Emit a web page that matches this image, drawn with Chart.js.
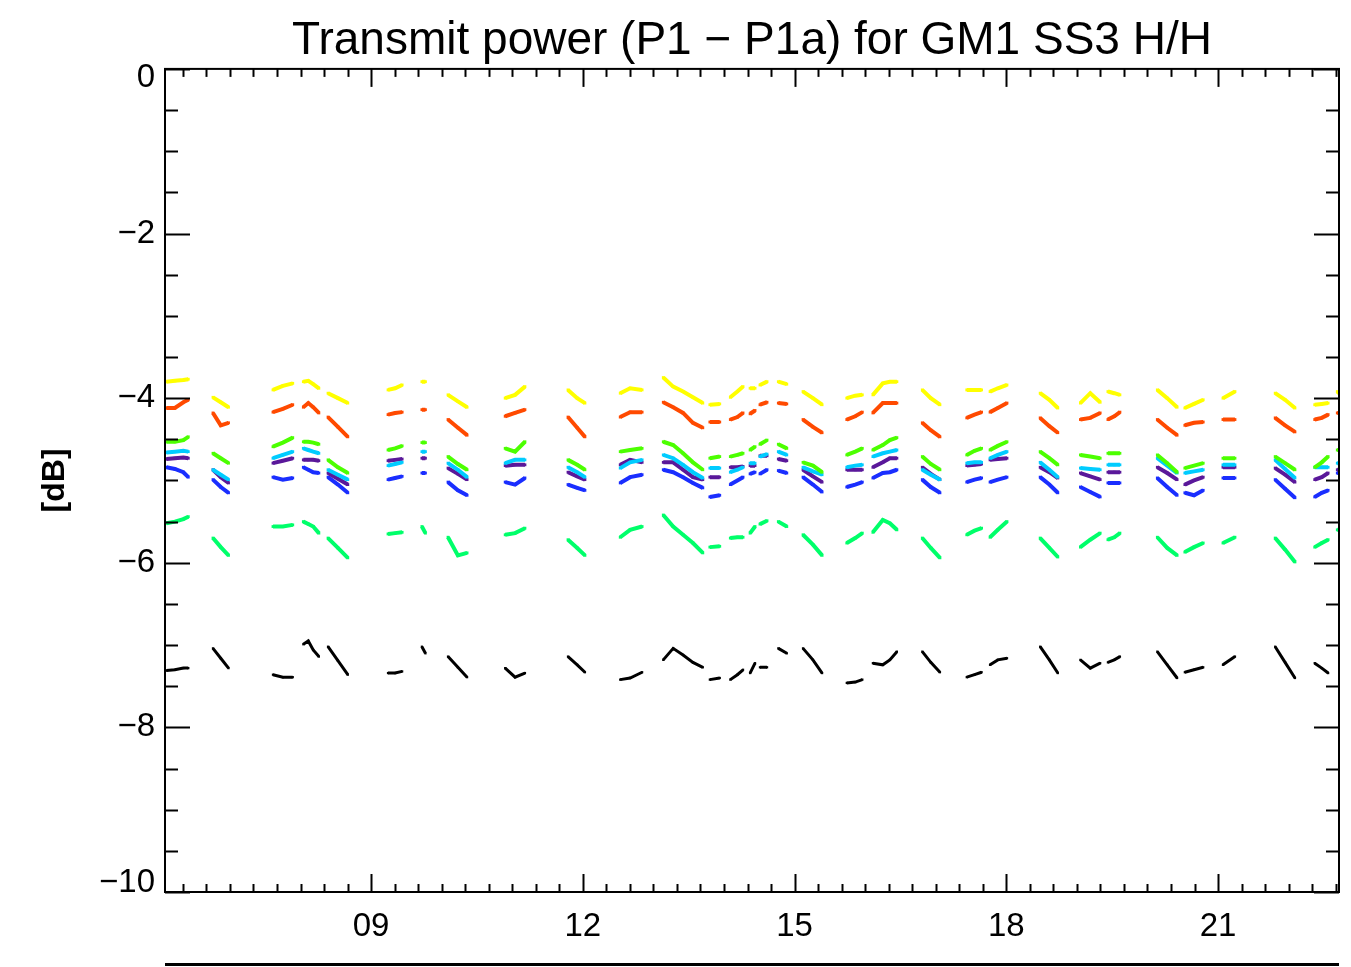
<!DOCTYPE html>
<html>
<head>
<meta charset="utf-8">
<script src="https://cdn.jsdelivr.net/npm/chart.js@4/dist/chart.umd.min.js"></script>
<style>
  html, body { margin: 0; padding: 0; background: #fff; }
  canvas { display: block; }
</style>
</head>
<body>
<canvas id="c" width="1351" height="967"></canvas>
<script>
// ---- Data (hours of day; null separates passes) ----
const hours = [
  6.10, 6.22, 6.34, 6.41, null,
  6.76, 6.87, 6.98, null,
  7.61, 7.75, 7.89, null,
  8.04, 8.11, 8.18, 8.26, null,
  8.39, 8.53, 8.67, null,
  9.24, 9.34, 9.44, null,
  9.72, 9.77, null,
  10.09, 10.23, 10.36, null,
  10.90, 11.04, 11.18, null,
  11.79, 11.92, 12.03, null,
  12.53, 12.67, 12.84, null,
  13.14, 13.28, 13.42, 13.56, 13.70, null,
  13.80, 13.94, null,
  14.09, 14.19, 14.27, null,
  14.37, 14.44, null,
  14.51, 14.61, null,
  14.77, 14.89, null,
  15.12, 15.26, 15.39, null,
  15.74, 15.86, 15.96, null,
  16.11, 16.25, 16.35, 16.45, null,
  16.81, 16.93, 17.06, null,
  17.44, 17.55, 17.65, null,
  17.77, 17.88, 18.01, null,
  18.48, 18.61, 18.73, null,
  19.05, 19.19, 19.33, null,
  19.44, 19.53, 19.61, null,
  20.14, 20.28, 20.42, null,
  20.53, 20.66, 20.79, null,
  21.07, 21.24, null,
  21.81, 21.95, 22.09, null,
  22.37, 22.47, 22.56, null,
  22.69, 22.71
];

const yellowDb = [
  -3.80, -3.79, -3.78, -3.77, null,
  -3.99, -4.05, -4.11, null,
  -3.90, -3.85, -3.82, null,
  -3.80, -3.79, -3.83, -3.88, null,
  -3.94, -4.00, -4.06, null,
  -3.90, -3.88, -3.84, null,
  -3.80, -3.80, null,
  -3.96, -4.04, -4.11, null,
  -4.00, -3.96, -3.86, null,
  -3.90, -4.00, -4.06, null,
  -3.94, -3.88, -3.90, null,
  -3.75, -3.86, -3.92, -3.99, -4.06, null,
  -4.08, -4.07, null,
  -3.99, -3.92, -3.86, null,
  -3.88, -3.88, null,
  -3.84, -3.80, null,
  -3.80, -3.83, null,
  -3.92, -4.00, -4.08, null,
  -4.00, -3.97, -3.96, null,
  -3.96, -3.82, -3.80, -3.80, null,
  -3.90, -4.00, -4.08, null,
  -3.90, -3.90, -3.90, null,
  -3.92, -3.88, -3.84, null,
  -3.94, -4.02, -4.12, null,
  -4.06, -3.94, -4.05, null,
  -3.92, -3.94, -3.96, null,
  -3.90, -4.00, -4.11, null,
  -4.12, -4.07, -4.02, null,
  -4.00, -3.92, null,
  -3.94, -4.02, -4.12, null,
  -4.08, -4.07, -4.06, null,
  -3.92, -3.94
];

const orangeDb = [
  -4.12, -4.12, -4.05, -4.02, null,
  -4.18, -4.33, -4.30, null,
  -4.17, -4.13, -4.08, null,
  -4.11, -4.06, -4.11, -4.18, null,
  -4.23, -4.35, -4.47, null,
  -4.20, -4.18, -4.17, null,
  -4.14, -4.14, null,
  -4.26, -4.36, -4.45, null,
  -4.22, -4.18, -4.14, null,
  -4.23, -4.36, -4.47, null,
  -4.23, -4.17, -4.17, null,
  -4.05, -4.11, -4.18, -4.30, -4.36, null,
  -4.29, -4.29, null,
  -4.26, -4.23, -4.18, null,
  -4.19, -4.15, null,
  -4.08, -4.05, null,
  -4.06, -4.07, null,
  -4.26, -4.35, -4.42, null,
  -4.26, -4.22, -4.17, null,
  -4.18, -4.06, -4.06, -4.06, null,
  -4.30, -4.39, -4.47, null,
  -4.24, -4.20, -4.17, null,
  -4.17, -4.12, -4.06, null,
  -4.24, -4.34, -4.42, null,
  -4.26, -4.24, -4.18, null,
  -4.26, -4.22, -4.17, null,
  -4.26, -4.36, -4.45, null,
  -4.33, -4.30, -4.29, null,
  -4.26, -4.26, null,
  -4.24, -4.33, -4.41, null,
  -4.26, -4.24, -4.20, null,
  -4.18, -4.18
];

const limeDb = [
  -4.53, -4.53, -4.51, -4.47, null,
  -4.67, -4.73, -4.79, null,
  -4.59, -4.54, -4.48, null,
  -4.53, -4.53, -4.54, -4.56, null,
  -4.75, -4.84, -4.91, null,
  -4.63, -4.61, -4.58, null,
  -4.54, -4.54, null,
  -4.71, -4.80, -4.87, null,
  -4.61, -4.65, -4.53, null,
  -4.75, -4.81, -4.87, null,
  -4.65, -4.63, -4.61, null,
  -4.53, -4.57, -4.67, -4.78, -4.87, null,
  -4.73, -4.71, null,
  -4.71, -4.69, -4.67, null,
  -4.63, -4.59, null,
  -4.56, -4.51, null,
  -4.56, -4.61, null,
  -4.78, -4.82, -4.90, null,
  -4.69, -4.65, -4.61, null,
  -4.63, -4.57, -4.51, -4.48, null,
  -4.71, -4.80, -4.87, null,
  -4.69, -4.64, -4.61, null,
  -4.63, -4.58, -4.53, null,
  -4.65, -4.73, -4.81, null,
  -4.69, -4.71, -4.73, null,
  -4.67, -4.67, -4.67, null,
  -4.69, -4.79, -4.90, null,
  -4.85, -4.82, -4.79, null,
  -4.73, -4.73, null,
  -4.71, -4.79, -4.87, null,
  -4.84, -4.78, -4.71, null,
  -4.63, -4.63
];

const cyanDb = [
  -4.66, -4.65, -4.64, -4.65, null,
  -4.87, -4.93, -4.99, null,
  -4.73, -4.69, -4.65, null,
  -4.61, -4.63, -4.65, -4.67, null,
  -4.87, -4.93, -4.99, null,
  -4.82, -4.80, -4.78, null,
  -4.65, -4.65, null,
  -4.79, -4.87, -4.96, null,
  -4.79, -4.75, -4.75, null,
  -4.84, -4.90, -4.96, null,
  -4.85, -4.78, -4.75, null,
  -4.69, -4.73, -4.81, -4.90, -4.97, null,
  -4.85, -4.85, null,
  -4.90, -4.87, -4.84, null,
  -4.79, -4.79, null,
  -4.71, -4.68, null,
  -4.65, -4.69, null,
  -4.84, -4.89, -4.93, null,
  -4.84, -4.82, -4.81, null,
  -4.71, -4.67, -4.65, -4.63, null,
  -4.87, -4.93, -4.99, null,
  -4.79, -4.78, -4.78, null,
  -4.73, -4.69, -4.65, null,
  -4.78, -4.87, -4.96, null,
  -4.85, -4.86, -4.87, null,
  -4.81, -4.81, -4.81, null,
  -4.73, -4.82, -4.91, null,
  -4.91, -4.89, -4.87, null,
  -4.81, -4.81, null,
  -4.75, -4.86, -4.97, null,
  -4.84, -4.84, -4.84, null,
  -4.79, -4.79
];

const purpleDb = [
  -4.74, -4.73, -4.72, -4.73, null,
  -4.87, -4.96, -5.03, null,
  -4.79, -4.76, -4.73, null,
  -4.75, -4.75, -4.75, -4.76, null,
  -4.91, -4.98, -5.05, null,
  -4.76, -4.75, -4.74, null,
  -4.73, -4.73, null,
  -4.85, -4.92, -4.99, null,
  -4.82, -4.81, -4.81, null,
  -4.90, -4.95, -4.99, null,
  -4.81, -4.75, -4.78, null,
  -4.78, -4.78, -4.87, -4.96, -4.99, null,
  -4.96, -4.96, null,
  -4.84, -4.84, -4.83, null,
  -4.82, -4.82, null,
  -4.70, -4.70, null,
  -4.74, -4.76, null,
  -4.87, -4.95, -5.02, null,
  -4.87, -4.87, -4.87, null,
  -4.84, -4.78, -4.73, -4.73, null,
  -4.84, -4.92, -4.99, null,
  -4.82, -4.81, -4.80, null,
  -4.75, -4.74, -4.73, null,
  -4.84, -4.90, -4.97, null,
  -4.91, -4.95, -4.99, null,
  -4.90, -4.90, -4.90, null,
  -4.84, -4.91, -4.99, null,
  -5.05, -5.00, -4.96, null,
  -4.84, -4.84, null,
  -4.85, -4.93, -5.02, null,
  -4.99, -4.96, -4.91, null,
  -4.87, -4.87
];

const blueDb = [
  -4.84, -4.86, -4.90, -4.96, null,
  -4.99, -5.08, -5.15, null,
  -4.96, -4.99, -4.97, null,
  -4.84, -4.87, -4.90, -4.91, null,
  -4.96, -5.05, -5.15, null,
  -4.99, -4.97, -4.95, null,
  -4.91, -4.91, null,
  -5.02, -5.12, -5.18, null,
  -5.02, -5.05, -4.97, null,
  -5.05, -5.09, -5.12, null,
  -5.03, -4.96, -4.93, null,
  -4.87, -4.90, -4.96, -5.03, -5.09, null,
  -5.20, -5.18, null,
  -5.05, -5.00, -4.96, null,
  -4.92, -4.90, null,
  -4.92, -4.87, null,
  -4.88, -4.91, null,
  -4.96, -5.05, -5.14, null,
  -5.08, -5.05, -5.02, null,
  -4.97, -4.91, -4.90, -4.87, null,
  -4.99, -5.08, -5.15, null,
  -5.02, -4.99, -4.97, null,
  -5.02, -4.99, -4.96, null,
  -4.96, -5.05, -5.15, null,
  -5.08, -5.14, -5.20, null,
  -5.03, -5.03, -5.03, null,
  -4.97, -5.08, -5.18, null,
  -5.15, -5.18, -5.12, null,
  -4.97, -4.97, null,
  -4.99, -5.10, -5.21, null,
  -5.20, -5.15, -5.12, null,
  -4.91, -4.91
];

const springDb = [
  -5.52, -5.50, -5.47, -5.44, null,
  -5.70, -5.81, -5.91, null,
  -5.56, -5.56, -5.54, null,
  -5.50, -5.53, -5.56, -5.64, null,
  -5.70, -5.82, -5.94, null,
  -5.65, -5.64, -5.63, null,
  -5.56, -5.64, null,
  -5.69, -5.91, -5.88, null,
  -5.66, -5.64, -5.58, null,
  -5.72, -5.82, -5.91, null,
  -5.69, -5.60, -5.56, null,
  -5.42, -5.56, -5.66, -5.76, -5.88, null,
  -5.81, -5.80, null,
  -5.70, -5.69, -5.69, null,
  -5.64, -5.56, null,
  -5.53, -5.49, null,
  -5.50, -5.56, null,
  -5.66, -5.78, -5.91, null,
  -5.76, -5.70, -5.64, null,
  -5.63, -5.48, -5.52, -5.60, null,
  -5.70, -5.82, -5.94, null,
  -5.66, -5.61, -5.58, null,
  -5.69, -5.60, -5.50, null,
  -5.70, -5.82, -5.93, null,
  -5.81, -5.72, -5.64, null,
  -5.72, -5.69, -5.64, null,
  -5.69, -5.82, -5.91, null,
  -5.87, -5.81, -5.76, null,
  -5.76, -5.69, null,
  -5.70, -5.84, -5.99, null,
  -5.81, -5.76, -5.72, null,
  -5.60, -5.60
];

const blackDb = [
  -7.31, -7.30, -7.28, -7.28, null,
  -7.04, -7.16, -7.28, null,
  -7.36, -7.39, -7.39, null,
  -6.99, -6.95, -7.06, -7.14, null,
  -7.02, -7.19, -7.36, null,
  -7.34, -7.34, -7.32, null,
  -7.02, -7.10, null,
  -7.14, -7.27, -7.39, null,
  -7.28, -7.39, -7.34, null,
  -7.14, -7.24, -7.33, null,
  -7.42, -7.40, -7.33, null,
  -7.18, -7.04, -7.12, -7.21, -7.27, null,
  -7.42, -7.40, null,
  -7.42, -7.36, -7.30, null,
  -7.34, -7.22, null,
  -7.27, -7.27, null,
  -7.04, -7.10, null,
  -7.04, -7.18, -7.34, null,
  -7.46, -7.45, -7.42, null,
  -7.22, -7.24, -7.18, -7.08, null,
  -7.08, -7.21, -7.33, null,
  -7.39, -7.36, -7.33, null,
  -7.24, -7.18, -7.16, null,
  -7.02, -7.18, -7.34, null,
  -7.18, -7.28, -7.22, null,
  -7.21, -7.18, -7.14, null,
  -7.08, -7.24, -7.40, null,
  -7.33, -7.30, -7.27, null,
  -7.24, -7.14, null,
  -7.02, -7.21, -7.40, null,
  -7.22, -7.28, -7.34, null,
  null, null
];

const seriesNames  = ['yellow', 'orange', 'lime', 'cyan', 'purple', 'blue', 'spring', 'black'];
const seriesValues = [yellowDb, orangeDb, limeDb, cyanDb, purpleDb, blueDb, springDb, blackDb];
const seriesColors = ['#ffff00', '#ff4a00', '#4cff00', '#00ccff', '#5a189a', '#1a2eff', '#00ff6a', '#000000'];

const X_MIN = 6.08, X_MAX = 22.714;
const X_LABEL_HOURS = [9, 12, 15, 18, 21];
const Y_MIN = -10, Y_MAX = 0, Y_STEP = 2, Y_MINOR = 0.5;
const TITLE = 'Transmit power (P1 \u2212 P1a) for GM1 SS3 H/H';
const Y_TITLE = '[dB]';

const FONT = "'Liberation Sans', Arial, Helvetica, sans-serif";

// ---- Build datasets ----
const datasets = seriesValues.map((vals, i) => ({
  label: seriesNames[i],
  data: hours.map((h, j) => ({ x: h === null ? NaN : h, y: (h === null || vals[j] === null) ? null : vals[j] })),
  showLine: true,
  spanGaps: false,
  borderColor: seriesColors[i],
  backgroundColor: seriesColors[i],
  borderWidth: i === 7 ? 3 : 4,
  pointStyle: 'rect',
  pointRadius: i === 7 ? 1.6 : 2,
  pointBorderWidth: 0,
  pointHoverRadius: 0,
  tension: 0
}));

// ---- IDL-like frame with inward ticks on all four sides, plus lower rule ----
const frameTicks = {
  id: 'frameTicks',
  afterDatasetsDraw(chart) {
    const { ctx, chartArea: a, scales: { x, y } } = chart;
    ctx.save();
    ctx.strokeStyle = '#000';
    ctx.lineWidth = 2;
    ctx.lineCap = 'butt';
    ctx.strokeRect(a.left, a.top, a.right - a.left, a.bottom - a.top);
    const seg = (x1, y1, x2, y2) => { ctx.beginPath(); ctx.moveTo(x1, y1); ctx.lineTo(x2, y2); ctx.stroke(); };
    const nY = Math.round((Y_MAX - Y_MIN) / Y_MINOR);
    for (let k = 0; k <= nY; k++) {
      const v = Y_MIN + k * Y_MINOR;
      const py = Math.round(y.getPixelForValue(v)) + 0.5;
      const major = Math.abs(v / Y_STEP - Math.round(v / Y_STEP)) < 1e-6;
      const len = major ? 25 : 13;
      seg(a.left, py, a.left + len, py);
      seg(a.right, py, a.right - len, py);
    }
    const k0 = Math.ceil(X_MIN * 3), k1 = Math.floor(X_MAX * 3);
    for (let k = k0; k <= k1; k++) {
      const px = Math.round(x.getPixelForValue(k / 3)) + 0.5;
      const len = (k % 9 === 0) ? 18 : 8;
      seg(px, a.bottom, px, a.bottom - len);
      seg(px, a.top, px, a.top + len);
    }
    ctx.fillStyle = '#000';
    ctx.fillRect(a.left, chart.height - 4, a.right - a.left, 3);
    ctx.restore();
  }
};

const yLabel = (v) => (v === 0 ? '0' : (v < 0 ? '\u2212' + Math.abs(v) : String(v)));

new Chart(document.getElementById('c'), {
  type: 'scatter',
  data: { datasets },
  options: {
    responsive: false,
    animation: false,
    devicePixelRatio: 1,
    layout: { padding: { left: 0, right: 12, top: 0, bottom: 0 } },
    plugins: {
      legend: { display: false },
      tooltip: { enabled: false },
      title: {
        display: true,
        text: TITLE,
        fullSize: false,
        color: '#000',
        font: { family: FONT, size: 46, weight: 'normal', lineHeight: 1.15 },
        padding: { top: 15, bottom: 1 }
      }
    },
    scales: {
      x: {
        type: 'linear',
        min: X_MIN,
        max: X_MAX,
        grid: { display: false, drawTicks: false },
        border: { display: false },
        afterBuildTicks: (scale) => { scale.ticks = X_LABEL_HOURS.map(v => ({ value: v })); },
        afterFit: (scale) => { scale.height = 75; },
        ticks: {
          color: '#000',
          padding: 15,
          maxRotation: 0,
          font: { family: FONT, size: 33 },
          callback: (v) => String(v).padStart(2, '0')
        }
      },
      y: {
        type: 'linear',
        min: Y_MIN,
        max: Y_MAX,
        grid: { display: false, drawTicks: false },
        border: { display: false },
        afterFit: (scale) => { scale.width = 165; },
        ticks: {
          stepSize: Y_STEP,
          color: '#000',
          padding: 10,
          font: (ctx) => {
            const v = ctx.tick ? ctx.tick.value : null;
            const edge = (v === Y_MAX || v === Y_MIN);
            return { family: FONT, size: 33, lineHeight: edge ? 0.55 : 1.2 };
          },
          // edge labels nudged inside the frame, as in the original plot
          callback: (v) => v === Y_MAX ? ['', yLabel(v)] : (v === Y_MIN ? [yLabel(v), ''] : yLabel(v))
        },
        title: {
          display: true,
          text: Y_TITLE,
          color: '#000',
          font: { family: FONT, size: 32, weight: 'bold', lineHeight: 1.2 },
          padding: { top: 36, bottom: 0 }
        }
      }
    }
  },
  plugins: [frameTicks]
});
</script>
</body>
</html>
